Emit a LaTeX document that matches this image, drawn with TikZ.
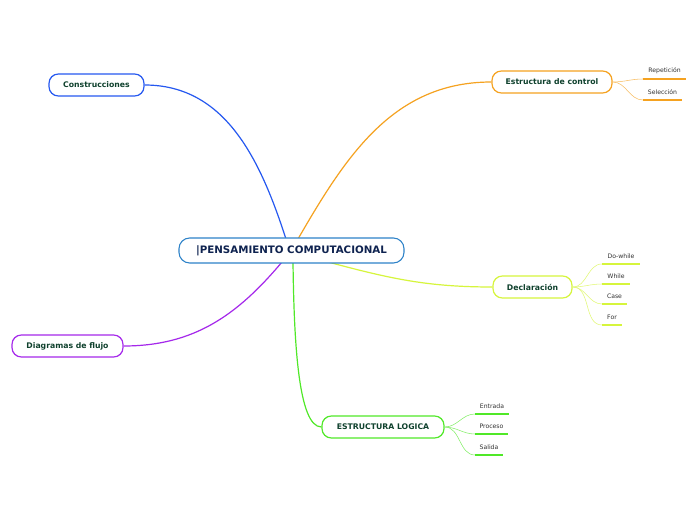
\documentclass[tikz,border=0pt]{standalone}
\usepackage{fontspec}
\setmainfont{DejaVu Sans}
\usetikzlibrary{calc}
\definecolor{cblue}{RGB}{37,88,240}
\definecolor{corange}{RGB}{245,162,32}
\definecolor{cyell}{RGB}{214,245,60}
\definecolor{cpurp}{RGB}{165,40,235}
\definecolor{cgreen}{RGB}{80,232,40}
\definecolor{cmain}{RGB}{45,130,200}
\definecolor{tmain}{RGB}{15,35,80}
\definecolor{ttopic}{RGB}{15,65,45}
\definecolor{tsub}{RGB}{50,50,50}
\tikzset{
  mainbox/.style={draw=cmain, line width=0.8pt, fill=white, rounded corners=8pt,
    minimum width=168.75pt, minimum height=18.75pt, inner sep=0pt,
    font=\fontsize{7.7}{9}\selectfont\bfseries, text=tmain},
  topic/.style={draw=#1, line width=0.9pt, fill=white, rounded corners=7pt,
    minimum height=16.5pt, inner sep=0pt,
    font=\fontsize{5.8}{7}\selectfont\bfseries, text=ttopic},
  br/.style={draw=#1, line width=0.9pt},
  sbr/.style={draw=#1!70!white, line width=0.4pt},
  ul/.style={draw=#1, line width=1.5pt},
  sub/.style={font=\fontsize{4.6}{6}\selectfont, text=tsub, inner sep=0pt, above=3pt}
}
\begin{document}
\begin{tikzpicture}[x=0.75pt,y=-0.75pt]
\useasboundingbox[fill=white] (0,0) rectangle (696,520);

\coordinate (cb) at (286,239);
\coordinate (co) at (298,239);
\coordinate (cy) at (328,262);
\coordinate (cp) at (282,262);
\coordinate (cg) at (293,262);

\node[topic=cblue, minimum width=71.25pt] (cons) at (96.5,85) {Construcciones};
\node[topic=corange, minimum width=90pt] (ctrl) at (552,82) {Estructura de control};
\node[topic=cyell, minimum width=59.25pt] (decl) at (532.5,287) {Declaración};
\node[topic=cpurp, minimum width=83.25pt] (diag) at (67.5,346) {Diagramas de flujo};
\node[topic=cgreen, minimum width=91.5pt] (logi) at (383,427) {ESTRUCTURA LOGICA};

\draw[br=cblue] (cb) to[out=108,in=0] (cons.east);
\draw[br=corange] (co) to[out=60,in=180] (ctrl.west);
\draw[br=cyell] (cy) to[out=-15,in=180] (decl.west);
\draw[br=cpurp] (cp) to[out=-130,in=0] (diag.east);
\draw[br=cgreen] (cg) .. controls (294,340) and (298,427) .. (logi.west);

\node[mainbox] (c) at (291.5,250.5) {|PENSAMIENTO COMPUTACIONAL};

% Estructura de control subtopics
\coordinate (repL) at (643,79); \coordinate (repR) at (686,79);
\coordinate (selL) at (643,100); \coordinate (selR) at (682,100);
\draw[sbr=corange] (ctrl.east) to[out=0,in=180] (repL);
\draw[sbr=corange] (ctrl.east) to[out=0,in=180] (selL);
\draw[ul=corange] (repL) -- (repR) node[midway,sub] (rep) {Repetición};
\draw[ul=corange] (selL) -- (selR) node[midway,sub] (sel) {Selección};

% Declaracion subtopics
\coordinate (dwL) at (602,264); \coordinate (dwR) at (640,264);
\coordinate (whL) at (602,284); \coordinate (whR) at (630,284);
\coordinate (caL) at (602,304); \coordinate (caR) at (627,304);
\coordinate (foL) at (602,325); \coordinate (foR) at (622,325);
\draw[sbr=cyell] (decl.east) to[out=0,in=180] (dwL);
\draw[sbr=cyell] (decl.east) to[out=0,in=180] (whL);
\draw[sbr=cyell] (decl.east) to[out=0,in=180] (caL);
\draw[sbr=cyell] (decl.east) to[out=0,in=180] (foL);
\draw[ul=cyell] (dwL) -- (dwR) node[midway,sub] (dw) {Do-while};
\draw[ul=cyell] (whL) -- (whR) node[midway,sub] (wh) {While};
\draw[ul=cyell] (caL) -- (caR) node[midway,sub] (ca) {Case};
\draw[ul=cyell] (foL) -- (foR) node[midway,sub] (fo) {For};

% Estructura logica subtopics
\coordinate (enL) at (475,414); \coordinate (enR) at (509,414);
\coordinate (prL) at (475,434); \coordinate (prR) at (508,434);
\coordinate (saL) at (475,455); \coordinate (saR) at (503,455);
\draw[sbr=cgreen] (logi.east) to[out=0,in=180] (enL);
\draw[sbr=cgreen] (logi.east) to[out=0,in=180] (prL);
\draw[sbr=cgreen] (logi.east) to[out=0,in=180] (saL);
\draw[ul=cgreen] (enL) -- (enR) node[midway,sub] (en) {Entrada};
\draw[ul=cgreen] (prL) -- (prR) node[midway,sub] (pr) {Proceso};
\draw[ul=cgreen] (saL) -- (saR) node[midway,sub] (sa) {Salida};
\end{tikzpicture}
\end{document}
